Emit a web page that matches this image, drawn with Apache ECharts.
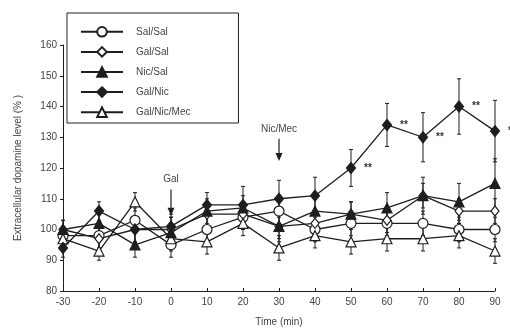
<!DOCTYPE html>
<html><head><meta charset="utf-8">
<script src="https://cdn.jsdelivr.net/npm/echarts@6/dist/echarts.min.js"></script>
<style>html,body{margin:0;padding:0;background:#fff}#c{width:510px;height:332px}</style>
</head><body><div id="c"></div>
<script>
var times = [-30,-20,-10,0,10,20,30,40,50,60,70,80,90];
var salSal    = [98, 98, 103, 95, 100, 104, 106, 100, 102, 102, 102, 100, 100];
var galSal    = [100, 97, 100, 100, 105, 105, 101, 102, 105, 103, 111, 106, 106];
var nicSal    = [100, 102, 95, 99, 106, 107, 101, 106, 105, 107, 111, 109, 115];
var galNic    = [94, 106, 100, 101, 108, 108, 110, 111, 120, 134, 130, 140, 132];
var galNicMec = [97, 93, 109, 97, 96, 102, 94, 98, 96, 97, 97, 98, 93];
var errSalSal    = [3,4,4,4,4,4,4,4,4,4,4,4,4];
var errGalSal    = [3,4,4,4,4,4,5,4,4,4,4,4,4];
var errNicSal    = [3,4,4,5,4,4,4,4,4,5,6,6,8];
var errGalNic    = [3,3,4,4,4,6,6,6,6,7,8,9,10];
var errGalNicMec = [3,3,3,4,4,4,4,4,4,4,4,4,4];
var stars = ['','','','','','','','','**','**','**','**','*'];
var seriesNames = ['Sal/Sal','Gal/Sal','Nic/Sal','Gal/Nic','Gal/Nic/Mec'];
var yTicks = {min:80, max:160, interval:10};
var xTicks = {min:-30, max:90, interval:10};
var arrowLabels = ['Gal', 'Nic/Mec'];
var arrowX = [0, 30];
var arrowFrom = [113, 129.5];
var arrowTo = [104.5, 122.3];

var INK = '#1e1e1e';
function pairs(v){ return times.map(function(t,i){ return [t, v[i]]; }); }
function mkSeries(name, vals, symbol, size, filled, z){
  return {
    name:name, type:'line', data:pairs(vals), z:z,
    symbol:symbol, symbolSize:size, showSymbol:true,
    lineStyle:{color:INK, width:1.3},
    itemStyle:{color: filled ? INK : '#fff', borderColor:INK, borderWidth:1.2},
    emphasis:{disabled:true}, animation:false
  };
}
var errData = [];
[[salSal,errSalSal],[galSal,errGalSal],[nicSal,errNicSal],[galNic,errGalNic],[galNicMec,errGalNicMec]].forEach(function(p){
  times.forEach(function(t,i){ errData.push([t, p[0][i]-p[1][i], p[0][i]+p[1][i]]); });
});

var s = [
  mkSeries(seriesNames[0], salSal, 'circle', 10, false, 3),
  mkSeries(seriesNames[1], galSal, 'diamond', [8,10], false, 3),
  mkSeries(seriesNames[2], nicSal, 'triangle', 10, true, 4),
  mkSeries(seriesNames[3], galNic, 'diamond', [9,11], true, 5),
  mkSeries(seriesNames[4], galNicMec, 'triangle', 10, false, 3)
];
s[3].data = times.map(function(t,i){
  return {value:[t, galNic[i]], label:{show: !!stars[i], formatter: stars[i], position:'right', distance:8,
    color:'#333', fontSize:10, fontWeight:'bold'}};
});
s.push({
  type:'custom', z:2, silent:true, animation:false, data:errData,
  renderItem:function(params, api){
    var x = api.value(0);
    var lo = api.coord([x, api.value(1)]), hi = api.coord([x, api.value(2)]);
    var c = 2;
    return {type:'group', children:[
      {type:'line', shape:{x1:lo[0],y1:lo[1],x2:hi[0],y2:hi[1]}, style:{stroke:INK, lineWidth:1}},
      {type:'line', shape:{x1:lo[0]-c,y1:lo[1],x2:lo[0]+c,y2:lo[1]}, style:{stroke:INK, lineWidth:1}},
      {type:'line', shape:{x1:hi[0]-c,y1:hi[1],x2:hi[0]+c,y2:hi[1]}, style:{stroke:INK, lineWidth:1}}
    ]};
  }
});
s.push({
  type:'custom', z:6, silent:true, animation:false,
  data: arrowX.map(function(x,i){ return [x, arrowFrom[i], arrowTo[i], i]; }),
  renderItem:function(params, api){
    var x = api.value(0);
    var a = api.coord([x, api.value(1)]), b = api.coord([x, api.value(2)]);
    var idx = api.value(3);
    var hw = 3.5, hl = 8;
    return {type:'group', children:[
      {type:'line', shape:{x1:a[0],y1:a[1],x2:b[0],y2:b[1]-hl+1}, style:{stroke:INK, lineWidth:1.2}},
      {type:'polygon', shape:{points:[[b[0]-hw,b[1]-hl],[b[0]+hw,b[1]-hl],[b[0],b[1]]]}, style:{fill:INK}},
      {type:'text', x:a[0], y:a[1]-5, style:{text:arrowLabels[idx], fill:'#444', font:'10px Liberation Sans, Arial',
        align:'center', verticalAlign:'bottom'}}
    ]};
  }
});

var chart = echarts.init(document.getElementById('c'), null, {renderer:'canvas'});
chart.setOption({
  backgroundColor:'#fff',
  animation:false,
  textStyle:{fontFamily:'Liberation Sans, Arial, sans-serif'},
  grid:{left:63, right:15, top:45, bottom:37, containLabel:false},
  legend:{
    data:seriesNames, orient:'vertical', left:67, top:13,
    padding:[13,48,5,13], itemWidth:42, itemHeight:12, itemGap:8.5,
    borderColor:'#222', borderWidth:1, backgroundColor:'#fff',
    textStyle:{color:'#444', fontSize:10, padding:[0,0,0,8]},
    selectedMode:false, z:10
  },
  xAxis:{
    type:'value', min:xTicks.min, max:xTicks.max, interval:xTicks.interval,
    name:'Time (min)', nameLocation:'middle', nameGap:26,
    nameTextStyle:{color:'#444', fontSize:10},
    axisLine:{onZero:false, lineStyle:{color:INK, width:1}},
    axisTick:{inside:true, length:3, lineStyle:{color:INK}},
    axisLabel:{color:'#444', fontSize:10, margin:6},
    splitLine:{show:false}
  },
  yAxis:{
    type:'value', min:yTicks.min, max:yTicks.max, interval:yTicks.interval,
    name:'Extracellular dopamine level (% )', nameLocation:'middle', nameGap:40, nameRotate:90,
    nameTextStyle:{color:'#444', fontSize:10},
    axisLine:{show:true, onZero:false, lineStyle:{color:INK, width:1}},
    axisTick:{show:true, length:3, lineStyle:{color:INK}},
    axisLabel:{color:'#444', fontSize:10, margin:6},
    splitLine:{show:false}
  },
  series:s
});
</script></body></html>
